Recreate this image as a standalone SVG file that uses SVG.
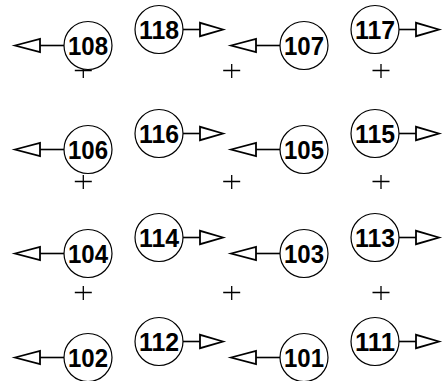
<svg xmlns="http://www.w3.org/2000/svg" width="447" height="381" viewBox="0 0 447 381">
<defs>
<style>
.c{fill:#fff;stroke:#000;stroke-width:1.2}
.t{font-family:"Liberation Sans",Arial,sans-serif;font-weight:bold;font-size:25.5px;text-anchor:middle;fill:#000}
.l{stroke:#000;stroke-width:1.6;fill:none}
.h{fill:#fff;stroke:#000;stroke-width:1.8;stroke-linejoin:miter}
.p{stroke:#000;stroke-width:1.3;fill:none}
</style>
<g id="arrL"><line class="l" x1="0" y1="0" x2="-24" y2="0"/><polygon class="h" points="-49,0 -24,-6.7 -24,6.7"/></g>
<g id="arrR"><line class="l" x1="0" y1="0" x2="17" y2="0"/><polygon class="h" points="40,0 17,-6.7 17,6.7"/></g>
<path id="plus" class="p" d="M-8.5,0H8.5M0,-6.5V7.5"/>
</defs>
<g id="connectors">
<use href="#arrL" x="64" y="45.5"/><use href="#arrL" x="64" y="149.5"/><use href="#arrL" x="64" y="253.5"/><use href="#arrL" x="64" y="357.5"/>
<use href="#arrL" x="280" y="45.5"/><use href="#arrL" x="280" y="149.5"/><use href="#arrL" x="280" y="253.5"/><use href="#arrL" x="280" y="357.5"/>
<use href="#arrR" x="183" y="29.5"/><use href="#arrR" x="183" y="133.5"/><use href="#arrR" x="183" y="237.5"/><use href="#arrR" x="183" y="341.5"/>
<use href="#arrR" x="399" y="29.5"/><use href="#arrR" x="399" y="133.5"/><use href="#arrR" x="399" y="237.5"/><use href="#arrR" x="399" y="341.5"/>
</g>
<g id="marks">
<use href="#plus" x="83.3" y="70.5"/><use href="#plus" x="83.3" y="181.5"/><use href="#plus" x="83.3" y="292.5"/>
<use href="#plus" x="231.7" y="70.5"/><use href="#plus" x="231.7" y="181.5"/><use href="#plus" x="231.7" y="292.5"/>
<use href="#plus" x="381" y="70.5"/><use href="#plus" x="381" y="181.5"/><use href="#plus" x="381" y="292.5"/>
</g>
<g id="n108"><circle class="c" cx="88" cy="45.5" r="24"/><text class="t" x="88" y="54.7" textLength="40" lengthAdjust="spacingAndGlyphs">108</text></g>
<g id="n106"><circle class="c" cx="88" cy="149.5" r="24"/><text class="t" x="88" y="158.7" textLength="40" lengthAdjust="spacingAndGlyphs">106</text></g>
<g id="n104"><circle class="c" cx="88" cy="253.5" r="24"/><text class="t" x="88" y="262.7" textLength="40" lengthAdjust="spacingAndGlyphs">104</text></g>
<g id="n102"><circle class="c" cx="88" cy="357.5" r="24"/><text class="t" x="88" y="366.7" textLength="40" lengthAdjust="spacingAndGlyphs">102</text></g>
<g id="n118"><circle class="c" cx="159" cy="29.5" r="24"/><text class="t" x="159" y="38.7" textLength="40" lengthAdjust="spacingAndGlyphs">118</text></g>
<g id="n116"><circle class="c" cx="159" cy="133.5" r="24"/><text class="t" x="159" y="142.7" textLength="40" lengthAdjust="spacingAndGlyphs">116</text></g>
<g id="n114"><circle class="c" cx="159" cy="237.5" r="24"/><text class="t" x="159" y="246.7" textLength="40" lengthAdjust="spacingAndGlyphs">114</text></g>
<g id="n112"><circle class="c" cx="159" cy="341.5" r="24"/><text class="t" x="159" y="350.7" textLength="40" lengthAdjust="spacingAndGlyphs">112</text></g>
<g id="n107"><circle class="c" cx="304" cy="45.5" r="24"/><text class="t" x="304" y="54.7" textLength="40" lengthAdjust="spacingAndGlyphs">107</text></g>
<g id="n105"><circle class="c" cx="304" cy="149.5" r="24"/><text class="t" x="304" y="158.7" textLength="40" lengthAdjust="spacingAndGlyphs">105</text></g>
<g id="n103"><circle class="c" cx="304" cy="253.5" r="24"/><text class="t" x="304" y="262.7" textLength="40" lengthAdjust="spacingAndGlyphs">103</text></g>
<g id="n101"><circle class="c" cx="304" cy="357.5" r="24"/><text class="t" x="304" y="366.7" textLength="40" lengthAdjust="spacingAndGlyphs">101</text></g>
<g id="n117"><circle class="c" cx="375" cy="29.5" r="24"/><text class="t" x="375" y="38.7" textLength="40" lengthAdjust="spacingAndGlyphs">117</text></g>
<g id="n115"><circle class="c" cx="375" cy="133.5" r="24"/><text class="t" x="375" y="142.7" textLength="40" lengthAdjust="spacingAndGlyphs">115</text></g>
<g id="n113"><circle class="c" cx="375" cy="237.5" r="24"/><text class="t" x="375" y="246.7" textLength="40" lengthAdjust="spacingAndGlyphs">113</text></g>
<g id="n111"><circle class="c" cx="375" cy="341.5" r="24"/><text class="t" x="375" y="350.7" textLength="40" lengthAdjust="spacingAndGlyphs">111</text></g>
</svg>
